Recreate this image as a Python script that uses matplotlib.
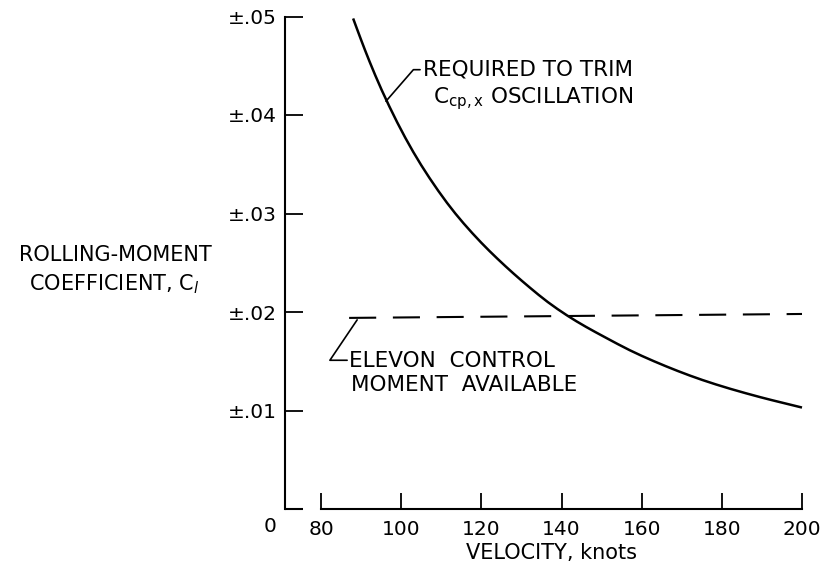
import matplotlib
matplotlib.use("Agg")
import matplotlib.pyplot as plt
from matplotlib.path import Path
from matplotlib.patches import PathPatch

# ---- data ----
velocity_trim = [88, 90, 92, 95, 99, 103, 107, 111.5, 115.5, 120, 124, 128,
                 132, 136.5, 141.5, 146, 151, 157, 163, 169, 175, 182, 190,
                 195, 200]
cl_trim = [0.0498, 0.0476, 0.0455, 0.0426, 0.0392, 0.0362, 0.0336, 0.0310,
           0.0290, 0.0270, 0.0254, 0.0239, 0.0225, 0.0210, 0.0196, 0.0185,
           0.0174, 0.0161, 0.0150, 0.0140, 0.0131, 0.0122, 0.0113, 0.0108,
           0.0103]
velocity_elevon = [87, 200]
cl_elevon = [0.0194, 0.0198]

x_ticks = [80, 100, 120, 140, 160, 180, 200]
y_ticks = [0.01, 0.02, 0.03, 0.04, 0.05]
y_tick_labels = ["±.01", "±.02", "±.03", "±.04", "±.05"]

plt.rcParams['font.family'] = ['DejaVu Sans']
plt.rcParams['mathtext.fontset'] = 'custom'
plt.rcParams['mathtext.rm'] = 'DejaVu Sans'
plt.rcParams['mathtext.it'] = 'DejaVu Sans:italic'

W, H = 832, 569
fig = plt.figure(figsize=(W / 100, H / 100), dpi=100)
ax = fig.add_axes([285 / W, 60 / H, 517 / W, 492.5 / H])
ax.set_xlim(71, 200)
ax.set_ylim(0, 0.05)

lw_axis = 1.5
for s in ['top', 'right']:
    ax.spines[s].set_visible(False)
ax.spines['left'].set_linewidth(lw_axis)
ax.spines['bottom'].set_linewidth(lw_axis)
ax.spines['left'].set_bounds(0, 0.05)
ax.spines['bottom'].set_bounds(80, 200)
# short stub of the broken x-axis at the origin corner
ax.plot([71, 75.5], [0, 0], color='black', lw=lw_axis, clip_on=False,
        solid_capstyle='butt')

ax.set_xticks(x_ticks)
ax.set_xticklabels([str(v) for v in x_ticks])
ax.set_yticks(y_ticks)
ax.set_yticklabels(y_tick_labels)
ax.tick_params(axis='x', direction='in', length=11.5, width=1.3, pad=8,
               labelsize=14.5)
ax.tick_params(axis='y', direction='in', length=13, width=1.3, pad=6,
               labelsize=14.5)

# "0" at origin
ax.annotate("0", xy=(71, 0), xytext=(-15, -18), textcoords='offset pixels',
            ha='center', va='center', fontsize=14.5, annotation_clip=False)

# smooth curve through the read points (quadratic Bezier via midpoints)
pts = list(zip(velocity_trim, cl_trim))
verts = [pts[0]]
codes = [Path.MOVETO]
verts.append(((pts[0][0] + pts[1][0]) / 2, (pts[0][1] + pts[1][1]) / 2))
codes.append(Path.LINETO)
for i in range(1, len(pts) - 1):
    mid = ((pts[i][0] + pts[i + 1][0]) / 2, (pts[i][1] + pts[i + 1][1]) / 2)
    verts += [pts[i], mid]
    codes += [Path.CURVE3, Path.CURVE3]
verts.append(pts[-1])
codes.append(Path.LINETO)
ax.add_patch(PathPatch(Path(verts, codes), facecolor='none',
                       edgecolor='black', lw=1.8, clip_on=False))

ax.plot(velocity_elevon, cl_elevon, color='black', lw=1.5, dashes=(13, 8),
        clip_on=False)

# annotation texts
fs = 15.5
fig.text(423 / W, 1 - 70 / H, "REQUIRED TO TRIM", ha='left', va='center',
         fontsize=fs)
fig.text(433 / W, 1 - 99 / H, r"$\mathregular{C_{cp,x}}$ OSCILLATION",
         ha='left', va='center', fontsize=fs)
fig.text(349 / W, 1 - 361 / H, "ELEVON  CONTROL", ha='left', va='center',
         fontsize=fs)
fig.text(351 / W, 1 - 385 / H, "MOMENT  AVAILABLE", ha='left', va='center',
         fontsize=fs)

# leaders
ax.annotate("", xy=(96.2, 0.0414), xytext=(104.7, 0.0446),
            arrowprops=dict(arrowstyle='-', lw=1.2, color='black',
                            shrinkA=0, shrinkB=0,
                            connectionstyle="angle,angleA=0,angleB=49,rad=0"))
ax.annotate("", xy=(89.0, 0.0192), xytext=(86.5, 0.0151),
            arrowprops=dict(arrowstyle='-', lw=1.2, color='black',
                            shrinkA=0, shrinkB=0,
                            connectionstyle="angle,angleA=0,angleB=56,rad=0"))

# axis labels
fig.text(115 / W, 1 - 255 / H, "ROLLING-MOMENT", ha='center', va='center',
         fontsize=15)
fig.text(114 / W, 1 - 284 / H, r"COEFFICIENT, C$_{\mathit{l}}$", ha='center',
         va='center', fontsize=15)
fig.text(551 / W, 1 - 553 / H, "VELOCITY, knots", ha='center', va='center',
         fontsize=15)

fig.savefig("out.png", dpi=100)
